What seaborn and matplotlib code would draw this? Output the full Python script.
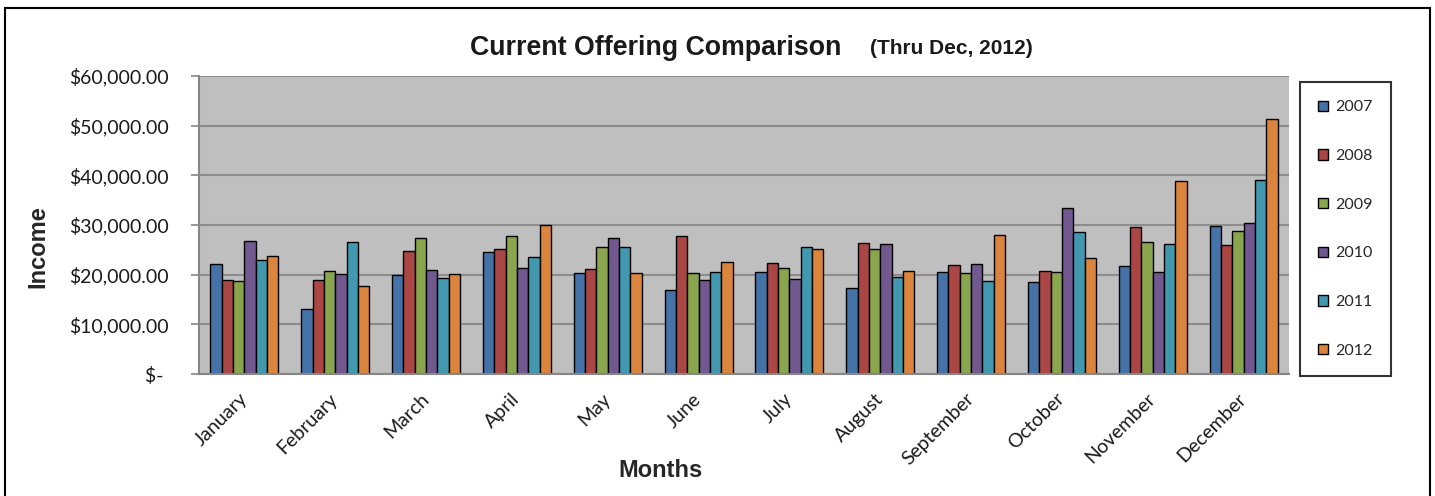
import matplotlib
matplotlib.use('Agg')
import matplotlib.pyplot as plt
import seaborn as sns
import pandas as pd
from matplotlib.patches import Rectangle
from matplotlib.ticker import FixedLocator

months = ['January', 'February', 'March', 'April', 'May', 'June', 'July',
          'August', 'September', 'October', 'November', 'December']
years = ['2007', '2008', '2009', '2010', '2011', '2012']
income_2007 = [22200, 13100, 19900, 24600, 20300, 17000, 20500, 17400, 20600, 18500, 21700, 29700]
income_2008 = [18900, 18900, 24700, 25200, 21100, 27800, 22300, 26400, 21900, 20700, 29500, 26000]
income_2009 = [18700, 20700, 27450, 27800, 25600, 20300, 21400, 25100, 20400, 20600, 26600, 28700]
income_2010 = [26800, 20100, 21000, 21300, 27400, 19000, 19200, 26200, 22100, 33400, 20500, 30500]
income_2011 = [23000, 26500, 19300, 23500, 25600, 20600, 25600, 19500, 18700, 28500, 26200, 39000]
income_2012 = [23700, 17700, 20100, 29900, 20400, 22500, 25200, 20700, 27900, 23300, 38900, 51300]
y_ticks = [0, 10000, 20000, 30000, 40000, 50000, 60000]
y_tick_labels = ['$- ', '$10,000.00', '$20,000.00', '$30,000.00', '$40,000.00',
                 '$50,000.00', '$60,000.00']
colors = ['#4572A7', '#AA4643', '#89A54E', '#71588F', '#4198AF', '#DB843D']

series = [income_2007, income_2008, income_2009, income_2010, income_2011, income_2012]
rows = []
for yr, vals in zip(years, series):
    for m, v in zip(months, vals):
        rows.append({'Month': m, 'Year': yr, 'Income': v})
df = pd.DataFrame(rows)

sns.set_theme(style='white')
plt.rcParams['font.family'] = ['Lato', 'DejaVu Sans']

W, H = 1435, 496
fig = plt.figure(figsize=(W / 100, H / 100), dpi=100)
fig.patch.set_facecolor('white')
ax = fig.add_axes([199 / W, 1 - 374 / H, (1289 - 199) / W, (374 - 76) / H])
ax.set_facecolor('#C0BFC0')
ax.set_axisbelow(True)

sns.barplot(data=df, x='Month', y='Income', hue='Year', order=months, hue_order=years,
            palette=colors, width=0.75, edgecolor='black', linewidth=1.0,
            saturation=1, ax=ax)

ax.set_ylim(0, 60000)
ax.set_xlim(-0.5, 11.5)
ax.set_yticks(y_ticks)
ax.set_yticklabels(y_tick_labels, fontsize=14, color='#1a1a1a')
ax.yaxis.grid(True, color='#8C8C8C', linewidth=1.5)
ax.xaxis.grid(False)

ax.set_xticks(range(len(months)))
ax.set_xticklabels(months, rotation=45, ha='right', va='center',
                   rotation_mode='anchor', fontsize=14, color='#1a1a1a')
ax.xaxis.set_minor_locator(FixedLocator([i - 0.5 for i in range(len(months) + 1)]))
ax.tick_params(axis='x', which='major', length=0, pad=16)
ax.tick_params(axis='x', which='minor', length=6, width=1.2, color='#868686', direction='out')
ax.tick_params(axis='y', which='major', length=6, width=1.2, color='#868686',
               direction='out', pad=16, left=True)

for s in ['top', 'right']:
    ax.spines[s].set_visible(False)
for s in ['left', 'bottom']:
    ax.spines[s].set_color('#868686')
    ax.spines[s].set_linewidth(1.5)

ax.set_ylabel('Income', fontsize=17, fontweight='bold', family='Liberation Sans')
ax.set_xlabel('Months', fontsize=17, fontweight='bold', family='Liberation Sans')
ax.yaxis.set_label_coords(-0.137, 0.426)
ax.xaxis.set_label_coords(0.423, -0.285)

handles, labels = ax.get_legend_handles_labels()
if ax.get_legend() is not None:
    ax.get_legend().remove()
leg = fig.legend(handles, labels, loc='upper left',
                 bbox_to_anchor=(1300 / W, 1 - 82 / H), bbox_transform=fig.transFigure,
                 fontsize=11.5, handlelength=0.62, handleheight=0.62, handletextpad=0.45,
                 labelspacing=2.17, borderpad=1.15, fancybox=False, frameon=True,
                 borderaxespad=0)
leg.get_frame().set_edgecolor('black')
leg.get_frame().set_linewidth(1.5)
for h in leg.legend_handles:
    h.set_edgecolor('black')
    h.set_linewidth(1.0)

fig.text(470 / W, 1 - 55 / H, 'Current Offering Comparison', fontsize=19.3,
         fontweight='bold', family='Liberation Sans', ha='left', va='baseline', color='#1a1a1a')
fig.text(870 / W, 1 - 54 / H, '(Thru Dec, 2012)', fontsize=15,
         fontweight='bold', family='Liberation Sans', ha='left', va='baseline', color='#1a1a1a')

fig.patches.append(Rectangle((5 / W, -0.05), (1430 - 5) / W, 1.05 - 8 / H, fill=False,
                             edgecolor='black', linewidth=1.5, transform=fig.transFigure,
                             figure=fig))

fig.savefig('out.png', dpi=100)
